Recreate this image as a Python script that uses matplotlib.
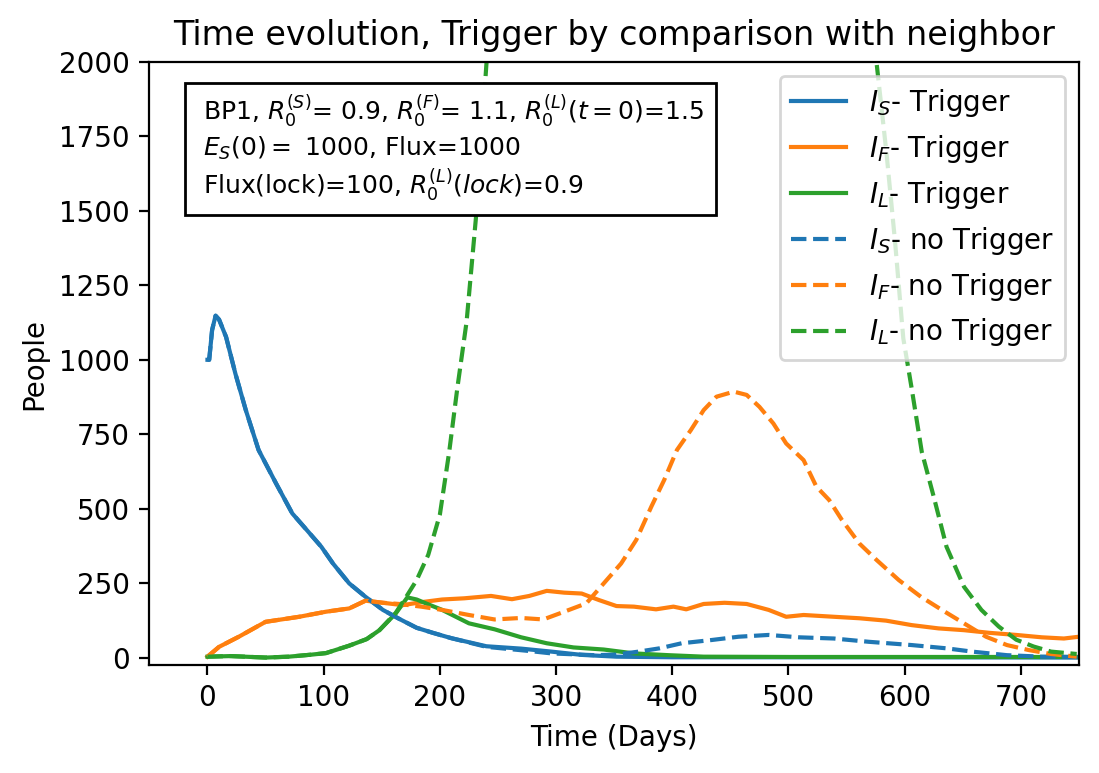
import matplotlib
matplotlib.use("Agg")
import matplotlib.pyplot as plt
from matplotlib.patches import Rectangle

# ---- data ----
t_s_trig = [0, 1.5, 4, 7, 10, 16, 24, 33, 44, 59, 73, 88, 98, 108, 122, 136, 151, 165, 180, 194, 210, 240, 270, 296, 322, 352, 400, 500, 600, 750]
v_s_trig = [1000, 1000, 1100, 1148, 1135, 1077, 954, 831, 697, 585, 484, 417, 372, 316, 249, 204, 160, 130, 100, 83, 65, 38, 30, 20, 9, 3, 1, 1, 1, 0]

t_f_trig = [0, 10, 27, 50, 79, 102, 122, 136, 151, 168, 184, 202, 221, 244, 262, 277, 292, 307, 322, 337, 352, 367, 386, 401, 412, 427, 445, 464, 483, 498, 513, 539, 561, 584, 606, 629, 651, 673, 696, 718, 737, 750]
v_f_trig = [3, 36, 70, 120, 137, 154, 165, 191, 184, 176, 186, 195, 199, 207, 196, 207, 224, 218, 215, 193, 173, 171, 162, 171, 162, 180, 184, 180, 160, 137, 143, 137, 132, 124, 109, 98, 92, 83, 76, 68, 64, 70]

t_l_trig = [0, 20, 50, 70, 90, 102, 122, 137, 148, 162, 172, 180, 188, 202, 225, 247, 270, 292, 315, 341, 367, 397, 427, 500, 600, 750]
v_l_trig = [3, 5, 0, 3, 10, 15, 40, 62, 92, 148, 202, 195, 182, 160, 115, 95, 68, 48, 34, 27, 14, 8, 3, 2, 2, 2]

t_s_no = [0, 1.5, 4, 7, 10, 16, 24, 33, 44, 59, 73, 88, 98, 108, 122, 136, 151, 165, 180, 194, 210, 240, 277, 296, 333, 352, 371, 389, 408, 434, 457, 483, 509, 539, 569, 606, 636, 658, 688, 718, 750]
v_s_no = [1000, 1000, 1100, 1148, 1135, 1077, 954, 831, 697, 585, 484, 417, 372, 316, 249, 204, 160, 130, 100, 83, 65, 36, 22, 14, 8, 10, 20, 31, 48, 59, 70, 76, 68, 64, 53, 42, 31, 20, 8, 3, 2]

t_f_no = [0, 10, 27, 50, 79, 102, 122, 136, 151, 165, 184, 202, 225, 247, 270, 289, 307, 326, 341, 356, 369, 382, 393, 404, 416, 427, 438, 453, 464, 475, 487, 498, 513, 524, 535, 546, 561, 576, 595, 614, 632, 651, 670, 688, 707, 726, 748]
v_f_no = [3, 36, 70, 120, 137, 154, 165, 191, 184, 180, 171, 160, 143, 128, 133, 128, 154, 182, 249, 316, 395, 507, 596, 697, 764, 831, 876, 893, 882, 842, 786, 719, 663, 574, 529, 462, 383, 327, 260, 204, 160, 115, 70, 42, 25, 12, 3]

t_l_no = [0, 20, 50, 70, 90, 102, 122, 137, 148, 162, 172, 180, 190, 200, 208, 215, 223, 231, 240, 260, 300, 350, 400, 450, 500, 550, 576, 584.5, 591.7, 598.8, 606, 614.7, 625, 636, 651, 666, 681, 696, 711, 726, 748]
v_l_no = [3, 5, 0, 3, 10, 15, 40, 62, 92, 150, 210, 260, 345, 480, 690, 904, 1128, 1475, 1990, 3000, 5200, 6800, 7000, 6300, 5000, 3200, 1990, 1688, 1397, 1072, 904, 691, 540, 372, 238, 160, 104, 60, 37, 20, 12]

labels = [r"$I_S$- Trigger", r"$I_F$- Trigger", r"$I_L$- Trigger",
          r"$I_S$- no Trigger", r"$I_F$- no Trigger", r"$I_L$- no Trigger"]

info_text = (r"BP1, $R_0^{(S)}$= 0.9, $R_0^{(F)}$= 1.1, $R_0^{(L)}(t=0)$=1.5" + "\n"
             + r"$E_S(0)=$ 1000, Flux=1000" + "\n"
             + r"Flux(lock)=100, $R_0^{(L)}(lock)$=0.9")

# ---- plot ----
fig = plt.figure(figsize=(5.495, 3.865), dpi=200)
ax = fig.add_axes([0.1359, 0.1397, 0.8459, 0.7801])

c = ["#1f77b4", "#ff7f0e", "#2ca02c"]
ax.plot(t_s_trig, v_s_trig, color=c[0], label=labels[0])
ax.plot(t_f_trig, v_f_trig, color=c[1], label=labels[1])
ax.plot(t_l_trig, v_l_trig, color=c[2], label=labels[2])
ax.plot(t_s_no, v_s_no, "--", color=c[0], label=labels[3])
ax.plot(t_f_no, v_f_no, "--", color=c[1], label=labels[4])
ax.plot(t_l_no, v_l_no, "--", color=c[2], label=labels[5])

ax.set_xlim(-50, 750)
ax.set_ylim(-25, 2000)
ax.set_xticks([0, 100, 200, 300, 400, 500, 600, 700])
ax.set_yticks([0, 250, 500, 750, 1000, 1250, 1500, 1750, 2000])
ax.set_xlabel("Time (Days)")
ax.set_ylabel("People")
ax.set_title("Time evolution, Trigger by comparison with neighbor")
ax.legend(loc="upper right")

# annotation box (axes-fraction placement)
ax.add_patch(Rectangle((0.0384, 0.7463), 0.5712, 0.2189, transform=ax.transAxes,
                       facecolor="white", edgecolor="black", linewidth=1.0, zorder=3))
ax.text(0.0578, 0.9486, info_text, transform=ax.transAxes, fontsize=9,
        ha="left", va="top", zorder=4)

fig.savefig("out.png", dpi=200)
